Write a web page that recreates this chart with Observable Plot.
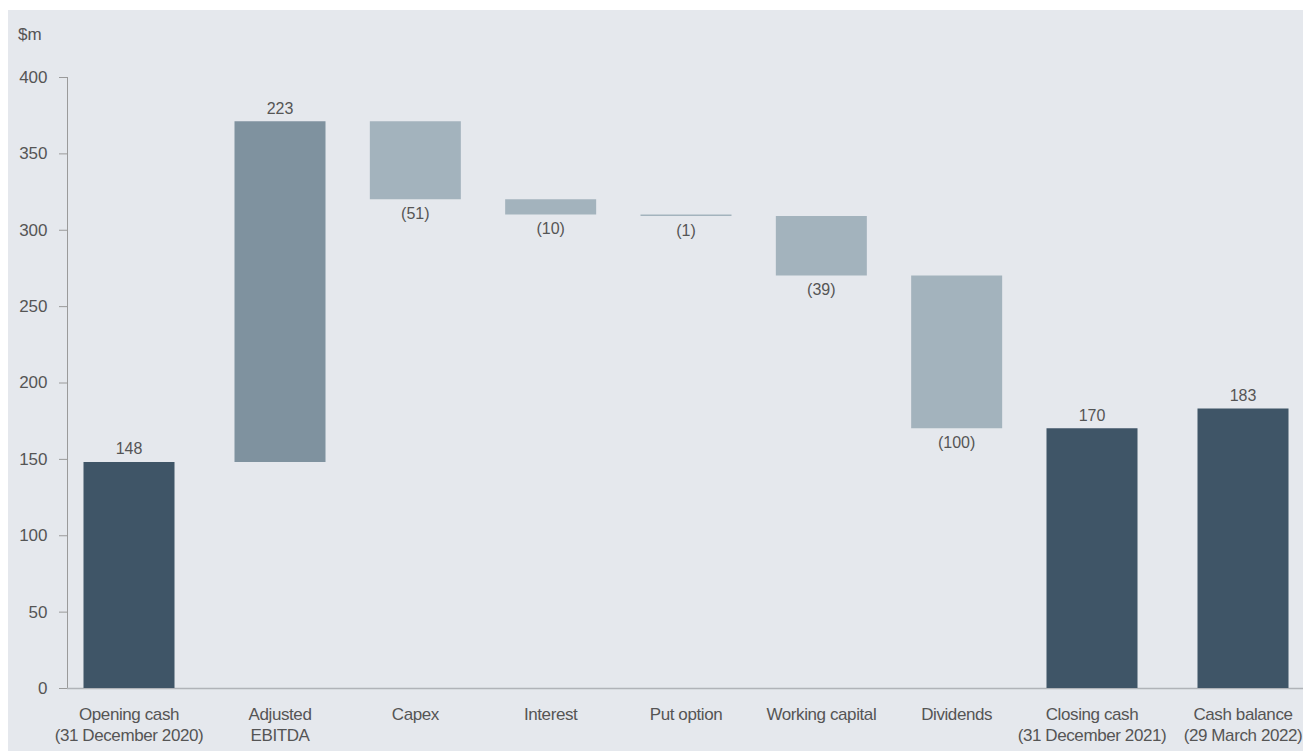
<!DOCTYPE html>
<html>
<head>
<meta charset="utf-8">
<script src="https://cdn.jsdelivr.net/npm/d3@7"></script>
<script src="https://cdn.jsdelivr.net/npm/@observablehq/plot@0.6"></script>
<style>
  html, body { margin: 0; padding: 0; background: #ffffff; }
  #wrap { position: absolute; left: 8px; top: 10px; width: 1295px; height: 741px; background: #e5e8ed; }
  #unit { position: absolute; left: 10px; top: 15px; font: 17px "Liberation Sans", Arial, sans-serif; color: #555; }
  #chart { position: absolute; left: 0; top: 0; }
  #chart g[aria-label="x-axis tick label"] text { letter-spacing: -0.4px; }
</style>
</head>
<body>
<div id="wrap">
  <div id="chart"></div>
  <div id="unit">$m</div>
</div>
<script>
const categories = [
  "Opening cash\n(31 December 2020)",
  "Adjusted\nEBITDA",
  "Capex",
  "Interest",
  "Put option",
  "Working capital",
  "Dividends",
  "Closing cash\n(31 December 2021)",
  "Cash balance\n(29 March 2022)"
];
const values = [148, 223, -51, -10, -1, -39, -100, 170, 183];
const kinds = ["total", "increase", "decrease", "decrease", "decrease", "decrease", "decrease", "total", "total"];
const yTicks = [0, 50, 100, 150, 200, 250, 300, 350, 400];

const colors = { total: "#3f5567", increase: "#7f929f", decrease: "#a3b3bd" };

// build waterfall table
let running = 0;
const rows = categories.map((c, i) => {
  const v = values[i];
  let y1, y2;
  if (kinds[i] === "total") { y1 = 0; y2 = v; running = v; }
  else { y1 = running; y2 = running + v; running = y2; }
  return {
    i, category: c, value: v, kind: kinds[i], y1, y2,
    top: Math.max(y1, y2), bottom: Math.min(y1, y2),
    label: v < 0 ? `(${-v})` : `${v}`
  };
});

const font = '"Liberation Sans", Arial, sans-serif';

const chart = Plot.plot({
  width: 1295,
  height: 741,
  marginLeft: 59,
  marginRight: 0,
  marginTop: 67,
  marginBottom: 63,
  style: { background: "transparent", fontFamily: font, fontSize: "17px", color: "#555" },
  x: { type: "linear", domain: [0, 1, 7, 8], range: [120.5, 271.5, 1083.5, 1234.5] },
  y: { domain: [0, 400] },
  marks: [
    Plot.frame({ anchor: "left", stroke: "#9a9a9a" }),
    Plot.ruleY([0], { stroke: "#b0b3b8", strokeWidth: 1.5 }),
    Plot.ruleX(rows, {
      x: "i", y1: "y1", y2: "y2",
      stroke: d => colors[d.kind],
      strokeWidth: 91
    }),
    Plot.text(rows.filter(d => d.kind !== "decrease"), {
      x: "i", y: "top", text: "label",
      lineAnchor: "bottom", dy: -8, fontSize: 16, fill: "#555"
    }),
    Plot.text(rows.filter(d => d.kind === "decrease"), {
      x: "i", y: "bottom", text: "label",
      lineAnchor: "top", dy: 8, fontSize: 16, fill: "#555"
    }),
    Plot.axisY({
      ticks: yTicks, tickSize: 8, tickPadding: 12,
      stroke: "#9a9a9a", fill: "#555", fontSize: 17, label: null
    }),
    Plot.axisX({
      ticks: d3.range(categories.length),
      tickFormat: i => categories[i],
      tickSize: 0, tickPadding: 16,
      fill: "#555", fontSize: 17, lineHeight: 1.25, label: null
    })
  ]
});

document.getElementById("chart").appendChild(chart);
</script>
</body>
</html>
